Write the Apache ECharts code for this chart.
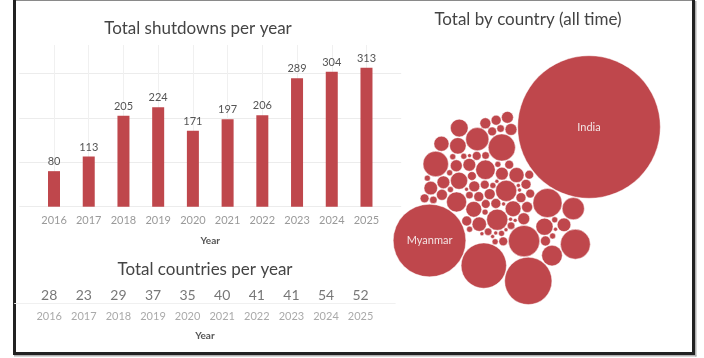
<!DOCTYPE html>
<html>
<head>
<meta charset="utf-8">
<script src="https://cdn.jsdelivr.net/npm/echarts@6/dist/echarts.min.js"></script>
<style>
html,body{margin:0;padding:0;background:#fff;}
#chart{width:704px;height:358px;}
</style>
</head>
<body>
<div id="chart"></div>
<script>
// ---------- DATA ----------
const years = ['2016','2017','2018','2019','2020','2021','2022','2023','2024','2025'];
const shutdowns = [80, 113, 205, 224, 171, 197, 206, 289, 304, 313];
const countriesPerYear = [28, 23, 29, 37, 35, 40, 41, 41, 54, 52];

const countryNames = [
  'India','Myanmar','Russia','Pakistan','Iran','Ukraine','Ethiopia','Iraq','Syria','Palestine',
  'Sudan','Algeria','Bangladesh','Turkey','Jordan','Cameroon','Venezuela','Libya',
  'Kenya','Senegal','Azerbaijan','Egypt','Togo','Chad','Guinea','Uganda',
  'Tanzania','Burundi','Mali','Somalia','Nigeria','Gabon','Zimbabwe','Kazakhstan','Armenia','Uzbekistan','Cuba','Sri Lanka','Afghanistan','Belarus','Yemen','Mauritania','Sierra Leone','Congo',
  'DR Congo','Benin','Guinea-Bissau','Niger','Burkina Faso','Eritrea','Gambia','Zambia','Malawi','Lebanon','Tajikistan','Kyrgyzstan','Turkmenistan','Indonesia','Nepal','Vietnam',
  'China','Oman','Bahrain','Saudi Arabia','Morocco','Tunisia','Liberia','Ghana','Rwanda','South Sudan','Mozambique','Angola','Nicaragua','Colombia','Ecuador','Brazil','Philippines','Thailand','Cambodia','Laos','Mongolia','Georgia','Kosovo','Serbia','Haiti','Suriname','Comoros','Djibouti'
];
const countryTotals = [
  900, 236, 101, 93, 45, 41, 39, 34, 30, 25,
  23, 21, 21, 20, 19, 18, 15, 14,
  14, 13, 12, 12, 11, 11, 10, 9,
  9, 8, 8, 8, 7, 7, 7, 7, 6, 6, 6, 6, 5, 5, 5, 5, 5, 5,
  4, 4, 4, 4, 4, 4, 4, 4, 4, 3, 3, 3, 3, 3, 2, 2,
  2, 2, 2, 2, 2, 2, 2, 2, 2, 2, 1, 1, 1, 1, 1, 1, 1, 1, 1, 1, 1, 1, 1, 2, 3, 4, 5, 6
];

// ---------- CIRCLE PACKING (front-chain, d3-style) ----------
function place(b, a, c) {
  var dx = b.x - a.x, x, a2, dy = b.y - a.y, y, b2, d2 = dx * dx + dy * dy;
  if (d2) {
    a2 = a.r + c.r; a2 *= a2;
    b2 = b.r + c.r; b2 *= b2;
    if (a2 > b2) {
      x = (d2 + b2 - a2) / (2 * d2);
      y = Math.sqrt(Math.max(0, b2 / d2 - x * x));
      c.x = b.x - x * dx - y * dy;
      c.y = b.y - x * dy + y * dx;
    } else {
      x = (d2 + a2 - b2) / (2 * d2);
      y = Math.sqrt(Math.max(0, a2 / d2 - x * x));
      c.x = a.x + x * dx - y * dy;
      c.y = a.y + x * dy + y * dx;
    }
  } else { c.x = a.x + c.r; c.y = a.y; }
}
function intersects(a, b) {
  var dr = a.r + b.r - 1e-6, dx = b.x - a.x, dy = b.y - a.y;
  return dr > 0 && dr * dr > dx * dx + dy * dy;
}
function score(node) {
  var a = node._, b = node.next._, ab = a.r + b.r,
      dx = (a.x * b.r + b.x * a.r) / ab, dy = (a.y * b.r + b.y * a.r) / ab;
  return dx * dx + dy * dy;
}
function Node(c) { this._ = c; this.next = null; this.previous = null; }
function packSiblings(circles) {
  var n = circles.length, a, b, c, aa, ca, i, j, k, sj, sk;
  if (!n) return;
  a = circles[0]; a.x = 0; a.y = 0;
  if (n < 2) return;
  b = circles[1]; a.x = -b.r; b.x = a.r; b.y = 0;
  if (n < 3) return;
  place(b, a, c = circles[2]);
  a = new Node(a); b = new Node(b); c = new Node(c);
  a.next = c.previous = b; b.next = a.previous = c; c.next = b.previous = a;
  pack: for (i = 3; i < n; ++i) {
    place(a._, b._, c = circles[i]); c = new Node(c);
    j = b.next; k = a.previous; sj = b._.r; sk = a._.r;
    do {
      if (sj <= sk) {
        if (intersects(j._, c._)) { b = j; a.next = b; b.previous = a; --i; continue pack; }
        sj += j._.r; j = j.next;
      } else {
        if (intersects(k._, c._)) { a = k; a.next = b; b.previous = a; --i; continue pack; }
        sk += k._.r; k = k.previous;
      }
    } while (j !== k.next);
    c.previous = a; c.next = b; a.next = b.previous = b = c;
    aa = score(a);
    while ((c = c.next) !== b) { if ((ca = score(c)) < aa) { a = c; aa = ca; } }
    b = a.next;
  }
}

const circles = countryTotals.map((v, i) => ({ i: i, v: v, r: Math.sqrt(v), x: 0, y: 0 }));
// pack in alphabetical order of country name
const order = circles.slice().sort((p, q) => countryNames[p.i].localeCompare(countryNames[q.i]));
packSiblings(order);

// orient: the rest of the cluster lies to the lower-left of India, Myanmar below
(function orient() {
  const A = circles[0], B = circles[1];
  const ax = A.x, ay = A.y;
  circles.forEach(c => { c.x -= ax; c.y -= ay; });
  let sx = 0, sy = 0, n = 0;
  circles.forEach((c, idx) => { if (idx > 0) { sx += c.x; sy += c.y; n++; } });
  sx /= n; sy /= n;
  const target = 145 * Math.PI / 180;
  const rot = target - Math.atan2(sy, sx), cs = Math.cos(rot), sn = Math.sin(rot);
  circles.forEach(c => { const x = c.x * cs - c.y * sn, y = c.x * sn + c.y * cs; c.x = x; c.y = y; });
  const angB = Math.atan2(B.y, B.x);
  if (angB > target) {
    const c2 = Math.cos(2 * target), s2 = Math.sin(2 * target);
    circles.forEach(c => { const x = c.x * c2 + c.y * s2, y = c.x * s2 - c.y * c2; c.x = x; c.y = y; });
  }
})();

let minX = Infinity, maxX = -Infinity, minY = Infinity, maxY = -Infinity;
circles.forEach(c => {
  minX = Math.min(minX, c.x - c.r); maxX = Math.max(maxX, c.x + c.r);
  minY = Math.min(minY, c.y - c.r); maxY = Math.max(maxY, c.y + c.r);
});
const K = 2.39; // px per sqrt-unit
const bubbleW = (maxX - minX) * K, bubbleH = (maxY - minY) * K;
// India (at origin) is anchored at its place in the panel
const indiaPX = 589, indiaPY = 127;

const bubbleData = circles.map(c => ({ name: countryNames[c.i], value: [c.x, c.y, c.r, c.v] }));

// ---------- CHART ----------
const FONT = 'Lato';
const RED = '#bf474c';
const chart = echarts.init(document.getElementById('chart'), null, { renderer: 'canvas' });

const yearFmt = v => (v >= 0 && v <= 9 && Number.isInteger(v)) ? years[v] : '';

chart.setOption({
  animation: false,
  backgroundColor: '#fff',
  textStyle: { fontFamily: FONT },
  grid: [
    { left: 19.3, top: 45, width: 381.9, height: 161.7 },
    { left: 14.6, top: 287, width: 380.6, height: 16 },
    { left: indiaPX + minX * K, top: indiaPY + minY * K, width: bubbleW, height: bubbleH }
  ],
  xAxis: [
    { gridIndex: 0, type: 'value', min: -1, max: 10, interval: 1,
      axisLine: { show: false }, axisTick: { show: false },
      axisLabel: { formatter: yearFmt, color: '#9a9a9a', fontSize: 11, margin: 8, fontFamily: FONT },
      splitLine: { show: true, showMinLine: false, showMaxLine: false, lineStyle: { color: '#f0f0f0', width: 1 } },
      name: 'Year', nameLocation: 'middle', nameGap: 29,
      nameTextStyle: { color: '#555', fontSize: 10, fontWeight: 'bold', fontFamily: FONT } },
    { gridIndex: 1, type: 'value', min: -1, max: 10, interval: 1,
      axisLine: { show: true, lineStyle: { color: '#f0f0f0' } }, axisTick: { show: false },
      axisLabel: { formatter: yearFmt, color: '#aaaaaa', fontSize: 11, margin: 8, fontFamily: FONT },
      splitLine: { show: false },
      name: 'Year', nameLocation: 'middle', nameGap: 28,
      nameTextStyle: { color: '#555', fontSize: 10, fontWeight: 'bold', fontFamily: FONT } },
    { gridIndex: 2, type: 'value', min: minX, max: maxX, show: false }
  ],
  yAxis: [
    { gridIndex: 0, type: 'value', min: 0, max: 364, interval: 100,
      axisLine: { show: false }, axisTick: { show: false }, axisLabel: { show: false },
      splitLine: { show: true, showMaxLine: false, lineStyle: { color: '#ececec', width: 1 } } },
    { gridIndex: 1, type: 'value', min: 0, max: 1, show: false },
    { gridIndex: 2, type: 'value', min: minY, max: maxY, inverse: true, show: false }
  ],
  series: [
    { type: 'bar', xAxisIndex: 0, yAxisIndex: 0, barWidth: 12,
      data: shutdowns.map((v, i) => [i, v]),
      itemStyle: { color: RED },
      label: { show: true, position: 'top', distance: 4, color: '#555', fontSize: 11, fontFamily: FONT,
        formatter: p => p.value[1] } },
    { type: 'scatter', xAxisIndex: 1, yAxisIndex: 1, symbolSize: 0,
      data: countriesPerYear.map((v, i) => [i, 0.5, v]),
      label: { show: true, position: 'inside', color: '#555', fontSize: 14, fontFamily: FONT,
        formatter: p => p.value[2] } },
    { type: 'custom', xAxisIndex: 2, yAxisIndex: 2, coordinateSystem: 'cartesian2d',
      data: bubbleData,
      renderItem: function (params, api) {
        const c = api.coord([api.value(0), api.value(1)]);
        const r = api.size([api.value(2), api.value(2)])[0];
        const name = bubbleData[params.dataIndex].name;
        const children = [{ type: 'circle', shape: { cx: c[0], cy: c[1], r: Math.max(r - 0.4, 0.5) },
          style: { fill: RED, stroke: 'rgba(255,255,255,0.55)', lineWidth: 0.8 } }];
        if (r > 30) {
          children.push({ type: 'text', x: c[0], y: c[1],
            style: { text: name, fill: '#f3e3e3', font: '11px ' + FONT, align: 'center', verticalAlign: 'middle' } });
        }
        return { type: 'group', children: children };
      } }
  ],
  graphic: [
    { type: 'text', x: 198, y: 29, style: { text: 'Total shutdowns per year', fill: '#444', font: '17px ' + FONT, align: 'center', verticalAlign: 'middle' } },
    { type: 'text', x: 205, y: 270, style: { text: 'Total countries per year', fill: '#444', font: '17px ' + FONT, align: 'center', verticalAlign: 'middle' } },
    { type: 'text', x: 528, y: 19.5, style: { text: 'Total by country (all time)', fill: '#444', font: '17px ' + FONT, align: 'center', verticalAlign: 'middle' } },
    { type: 'rect', shape: { x: 16, y: 0, width: 677, height: 1 }, style: { fill: '#8a8a8a' } },
    { type: 'rect', shape: { x: 13, y: 0, width: 3, height: 355 }, style: { fill: '#222' } },
    { type: 'rect', shape: { x: 692, y: 0, width: 3, height: 355 }, style: { fill: '#222' } },
    { type: 'rect', shape: { x: 13, y: 352, width: 682, height: 3 }, style: { fill: '#222' } },
    { type: 'rect', shape: { x: 695, y: 1, width: 1.5, height: 355.5 }, style: { fill: '#b0b0b0' } },
    { type: 'rect', shape: { x: 14, y: 355, width: 682.5, height: 1.5 }, style: { fill: '#b0b0b0' } }
  ]
});
</script>
</body>
</html>
